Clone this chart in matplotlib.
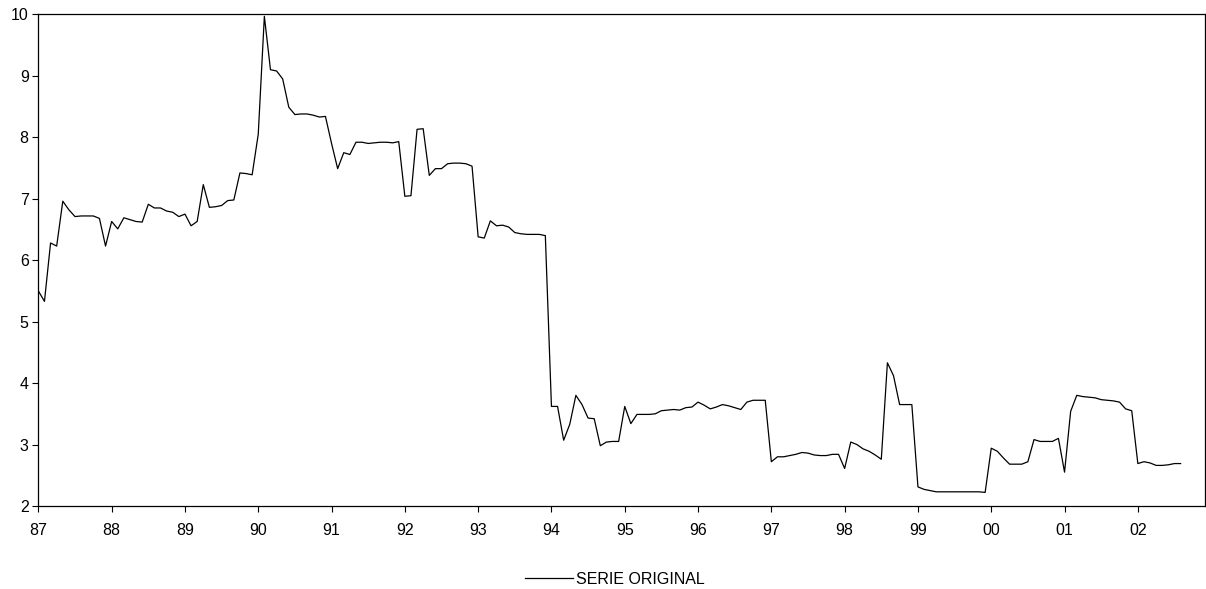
import matplotlib
matplotlib.use("Agg")
from matplotlib import pyplot as plt
import numpy as np

# monthly series, Jan 1987 .. Aug 2002
serie_87_90 = [5.50, 5.33, 6.28, 6.23, 6.96, 6.82, 6.71, 6.72, 6.72, 6.72, 6.68, 6.23,
               6.63, 6.51, 6.69, 6.66, 6.63, 6.62, 6.91, 6.85, 6.85, 6.80, 6.78, 6.71,
               6.75, 6.56, 6.63, 7.23, 6.86, 6.87, 6.89, 6.97, 6.98, 7.42, 7.41, 7.39]
serie_90_93 = [8.05, 9.97, 9.10, 9.08, 8.95, 8.49, 8.37, 8.38, 8.38, 8.36, 8.33, 8.34,
               7.90, 7.49, 7.75, 7.72, 7.92, 7.92, 7.90, 7.91, 7.92, 7.92, 7.91, 7.93,
               7.04, 7.05, 8.13, 8.14, 7.38, 7.49, 7.49, 7.57, 7.58, 7.58, 7.57, 7.53]
serie_93_96 = [6.38, 6.36, 6.64, 6.56, 6.57, 6.54, 6.45, 6.43, 6.42, 6.42, 6.42, 6.40,
               3.62, 3.62, 3.07, 3.33, 3.80, 3.65, 3.43, 3.42, 2.98, 3.04, 3.05, 3.05,
               3.62, 3.34, 3.49, 3.49, 3.49, 3.50, 3.55, 3.56, 3.57, 3.56, 3.60, 3.61]
serie_96_99 = [3.69, 3.64, 3.58, 3.61, 3.65, 3.63, 3.60, 3.57, 3.69, 3.72, 3.72, 3.72,
               2.72, 2.80, 2.80, 2.82, 2.84, 2.87, 2.86, 2.83, 2.82, 2.82, 2.84, 2.84,
               2.61, 3.04, 3.00, 2.93, 2.89, 2.83, 2.76, 4.33, 4.12, 3.65, 3.65, 3.65]
serie_99_02 = [2.31, 2.27, 2.25, 2.23, 2.23, 2.23, 2.23, 2.23, 2.23, 2.23, 2.23, 2.22,
               2.94, 2.89, 2.78, 2.68, 2.68, 2.68, 2.72, 3.08, 3.05, 3.05, 3.05, 3.10,
               2.55, 3.54, 3.80, 3.78, 3.77, 3.76, 3.73, 3.72, 3.71, 3.69, 3.58, 3.55,
               2.69, 2.72, 2.70, 2.66, 2.66, 2.67, 2.69, 2.69]

serie = serie_87_90 + serie_90_93 + serie_93_96 + serie_96_99 + serie_99_02
year_labels = ['87', '88', '89', '90', '91', '92', '93', '94', '95', '96',
               '97', '98', '99', '00', '01', '02']
n_months = 192

plt.rcParams['font.family'] = ['Liberation Sans', 'DejaVu Sans']

fig = plt.figure(figsize=(12.06, 5.89), dpi=100)
ax = fig.add_axes([0.0318, 0.141, 0.9674, 0.8345])

meses = np.arange(len(serie))
ax.plot(meses, serie, color='black', linewidth=0.9, label='SERIE ORIGINAL')

ax.set_xlim(0, n_months - 1)
ax.set_ylim(2, 10)
ax.set_xticks(np.arange(0, 12 * len(year_labels), 12))
ax.set_xticklabels(year_labels)
ax.set_yticks(np.arange(2, 11, 1))
ax.tick_params(axis='both', direction='out', length=4, width=0.8, labelsize=11.5, colors='black')
ax.tick_params(axis='x', pad=8)
ax.tick_params(axis='y', pad=3)
for s in ax.spines.values():
    s.set_linewidth(0.9)
    s.set_color('black')

fig.legend(loc='lower center', bbox_to_anchor=(0.51, -0.021), frameon=False,
           fontsize=11.5, handlelength=3.0, handletextpad=0.2)

fig.savefig('out.png', dpi=100, facecolor='white')
